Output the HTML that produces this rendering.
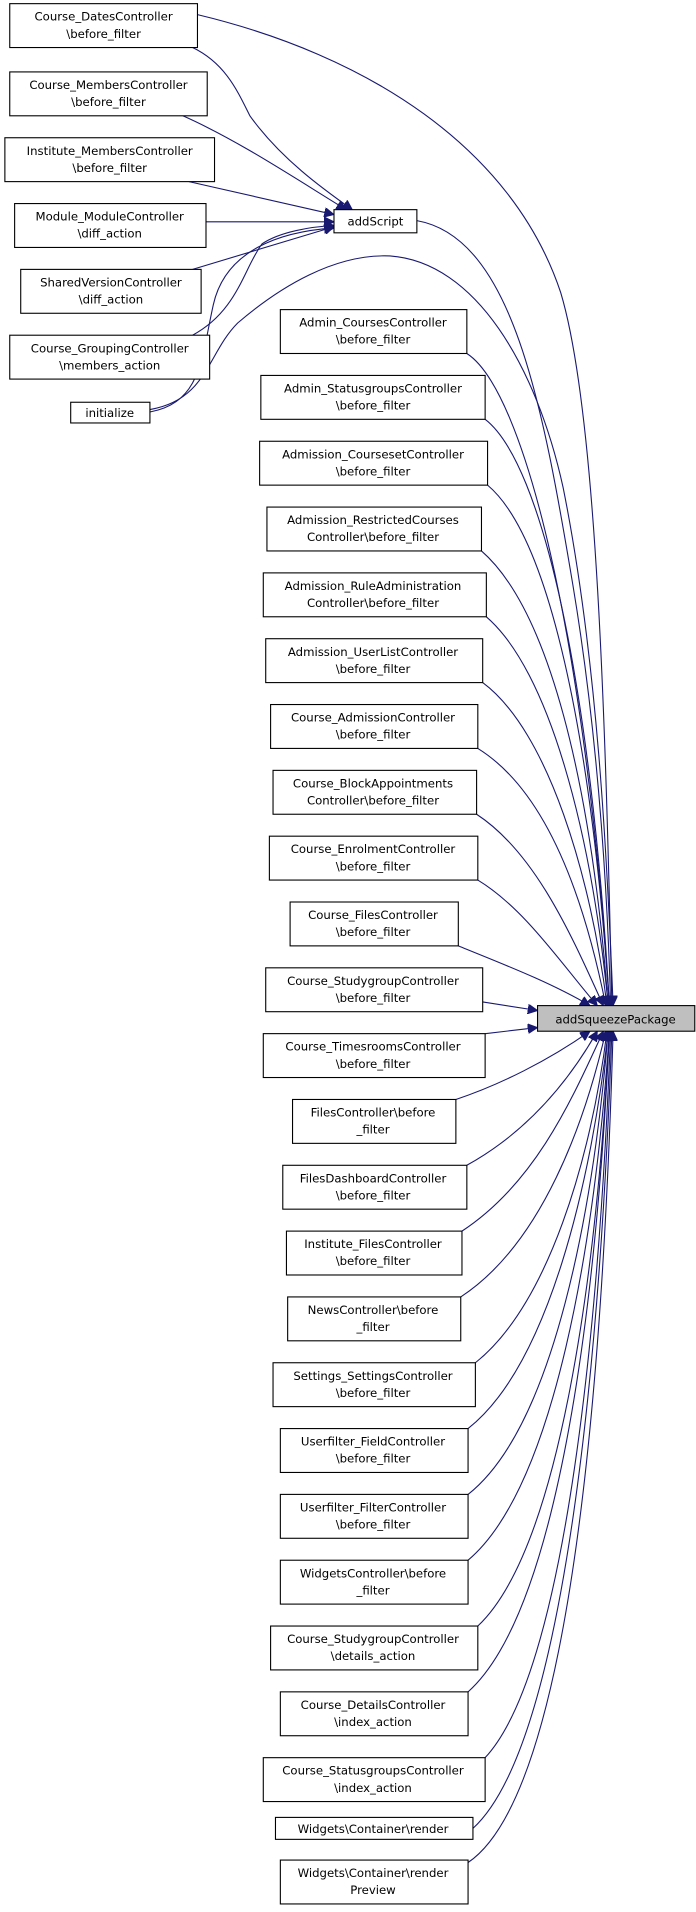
<!DOCTYPE html>
<html><head><meta charset="utf-8"><style>
html,body{margin:0;padding:0;background:#fff}
svg{display:block}
text{font-family:"DejaVu Sans","Liberation Sans",sans-serif;font-size:9.6px;fill:#000;text-anchor:middle}
rect.n{fill:#fff;stroke:#000;stroke-width:0.9}
path.e{fill:none;stroke:#191970;stroke-width:0.9}
</style></head><body>
<svg width="696" height="1912" viewBox="0 0 571 1568.6" xmlns="http://www.w3.org/2000/svg">
<defs><marker id="a" viewBox="0 0 10 10" refX="10" refY="5" markerWidth="8" markerHeight="8" orient="auto" markerUnits="userSpaceOnUse"><path d="M0,0L10,5L0,10z" fill="#191970" stroke="#191970"/></marker></defs>

<!-- edges to addScript -->
<path class="e" marker-end="url(#a)" d="M158,39 C185,52 195,75 205,95 C230,130 265,155 289,172"/>
<path class="e" marker-end="url(#a)" d="M150,95 C195,115 240,145 284,172"/>
<path class="e" marker-end="url(#a)" d="M155,149 L274,176"/>
<path class="e" marker-end="url(#a)" d="M169,182 L274,182"/>
<path class="e" marker-end="url(#a)" d="M158,221 L274,186"/>
<path class="e" marker-end="url(#a)" d="M158,275 C195,255 200,220 215,200 C230,190 255,186 274,185"/>
<path class="e" marker-end="url(#a)" d="M123,338 C165,330 165,295 175,250 C185,205 230,190 274,187"/>

<!-- to target from top group -->
<path class="e" marker-end="url(#a)" d="M342,181 C420,195 445,330 470,480 C490,600 498,720 501,825"/>
<path class="e" marker-end="url(#a)" d="M162,12 C300,45 420,120 460,240 C490,340 497,600 502,825"/>
<path class="e" marker-end="url(#a)" d="M123,336 C170,328 170,290 195,265 C230,235 275,208 320,210 C390,215 440,300 462,400 C490,540 498,700 503,825"/>

<!-- right column above -->
<path class="e" marker-end="url(#a)" d="M383,290 C430,320 480,520 500,825"/>
<path class="e" marker-end="url(#a)" d="M398,344 C445,380 485,560 500,825"/>
<path class="e" marker-end="url(#a)" d="M400,398 C450,440 485,600 500,825"/>
<path class="e" marker-end="url(#a)" d="M395,452 C450,500 485,640 499,825"/>
<path class="e" marker-end="url(#a)" d="M399,506 C450,550 485,680 499,825"/>
<path class="e" marker-end="url(#a)" d="M396,560 C450,600 485,720 498,825"/>
<path class="e" marker-end="url(#a)" d="M392,614 C450,650 480,740 497,825"/>
<path class="e" marker-end="url(#a)" d="M391,668 C440,700 470,770 495,825"/>
<path class="e" marker-end="url(#a)" d="M392,722 C430,745 460,790 490,825"/>
<path class="e" marker-end="url(#a)" d="M376,776 C410,790 450,805 484,825"/>
<path class="e" marker-end="url(#a)" d="M396,822 L441,829"/>
<!-- right column below -->
<path class="e" marker-end="url(#a)" d="M398,848 L441,843"/>
<path class="e" marker-end="url(#a)" d="M374,902 C410,890 450,870 484,846"/>
<path class="e" marker-end="url(#a)" d="M383,956 C430,930 465,890 490,846"/>
<path class="e" marker-end="url(#a)" d="M379,1010 C440,970 470,900 495,846"/>
<path class="e" marker-end="url(#a)" d="M378,1064 C445,1020 480,920 497,846"/>
<path class="e" marker-end="url(#a)" d="M390,1118 C450,1070 485,950 498,846"/>
<path class="e" marker-end="url(#a)" d="M384,1172 C450,1120 485,970 499,846"/>
<path class="e" marker-end="url(#a)" d="M384,1226 C455,1170 487,990 499,846"/>
<path class="e" marker-end="url(#a)" d="M384,1280 C455,1220 488,1020 500,846"/>
<path class="e" marker-end="url(#a)" d="M392,1334 C460,1270 490,1040 500,846"/>
<path class="e" marker-end="url(#a)" d="M384,1388 C460,1320 490,1060 500,846"/>
<path class="e" marker-end="url(#a)" d="M398,1442 C465,1370 492,1080 501,846"/>
<path class="e" marker-end="url(#a)" d="M388,1500 C465,1430 493,1100 502,846"/>
<path class="e" marker-end="url(#a)" d="M384,1528 C470,1470 495,1120 503,846"/>

<!-- left nodes -->
<rect class="n" x="8" y="3" width="154" height="36"/><text x="85" y="17">Course_DatesController</text><text x="85" y="31">\before_filter</text>
<rect class="n" x="8" y="59" width="162" height="36"/><text x="89" y="73">Course_MembersController</text><text x="89" y="87">\before_filter</text>
<rect class="n" x="4" y="113" width="172" height="36"/><text x="90" y="127">Institute_MembersController</text><text x="90" y="141">\before_filter</text>
<rect class="n" x="12" y="167" width="157" height="36"/><text x="90" y="181">Module_ModuleController</text><text x="90" y="195">\diff_action</text>
<rect class="n" x="17" y="221" width="148" height="36"/><text x="91" y="235">SharedVersionController</text><text x="91" y="249">\diff_action</text>
<rect class="n" x="8" y="275" width="164" height="36"/><text x="90" y="289">Course_GroupingController</text><text x="90" y="303">\members_action</text>
<rect class="n" x="58" y="330" width="65" height="17"/><text x="90" y="342">initialize</text>
<rect class="n" x="274" y="172" width="68" height="19"/><text x="308" y="185">addScript</text>

<!-- right nodes -->
<rect class="n" x="230" y="254" width="153" height="36"/><text x="306" y="268">Admin_CoursesController</text><text x="306" y="282">\before_filter</text>
<rect class="n" x="214" y="308" width="184" height="36"/><text x="306" y="322">Admin_StatusgroupsController</text><text x="306" y="336">\before_filter</text>
<rect class="n" x="213" y="362" width="187" height="36"/><text x="306" y="376">Admission_CoursesetController</text><text x="306" y="390">\before_filter</text>
<rect class="n" x="219" y="416" width="176" height="36"/><text x="306" y="430">Admission_RestrictedCourses</text><text x="306" y="444">Controller\before_filter</text>
<rect class="n" x="216" y="470" width="183" height="36"/><text x="306" y="484">Admission_RuleAdministration</text><text x="306" y="498">Controller\before_filter</text>
<rect class="n" x="218" y="524" width="178" height="36"/><text x="306" y="538">Admission_UserListController</text><text x="306" y="552">\before_filter</text>
<rect class="n" x="222" y="578" width="170" height="36"/><text x="306" y="592">Course_AdmissionController</text><text x="306" y="606">\before_filter</text>
<rect class="n" x="224" y="632" width="167" height="36"/><text x="306" y="646">Course_BlockAppointments</text><text x="306" y="660">Controller\before_filter</text>
<rect class="n" x="221" y="686" width="171" height="36"/><text x="306" y="700">Course_EnrolmentController</text><text x="306" y="714">\before_filter</text>
<rect class="n" x="238" y="740" width="138" height="36"/><text x="306" y="754">Course_FilesController</text><text x="306" y="768">\before_filter</text>
<rect class="n" x="218" y="794" width="178" height="36"/><text x="306" y="808">Course_StudygroupController</text><text x="306" y="822">\before_filter</text>
<rect class="n" x="216" y="848" width="182" height="36"/><text x="306" y="862">Course_TimesroomsController</text><text x="306" y="876">\before_filter</text>
<rect class="n" x="240" y="902" width="134" height="36"/><text x="306" y="916">FilesController\before</text><text x="306" y="930">_filter</text>
<rect class="n" x="232" y="956" width="151" height="36"/><text x="306" y="970">FilesDashboardController</text><text x="306" y="984">\before_filter</text>
<rect class="n" x="235" y="1010" width="144" height="36"/><text x="306" y="1024">Institute_FilesController</text><text x="306" y="1038">\before_filter</text>
<rect class="n" x="236" y="1064" width="142" height="36"/><text x="306" y="1078">NewsController\before</text><text x="306" y="1092">_filter</text>
<rect class="n" x="224" y="1118" width="166" height="36"/><text x="306" y="1132">Settings_SettingsController</text><text x="306" y="1146">\before_filter</text>
<rect class="n" x="230" y="1172" width="154" height="36"/><text x="306" y="1186">Userfilter_FieldController</text><text x="306" y="1200">\before_filter</text>
<rect class="n" x="230" y="1226" width="154" height="36"/><text x="306" y="1240">Userfilter_FilterController</text><text x="306" y="1254">\before_filter</text>
<rect class="n" x="230" y="1280" width="154" height="36"/><text x="306" y="1294">WidgetsController\before</text><text x="306" y="1308">_filter</text>
<rect class="n" x="222" y="1334" width="170" height="36"/><text x="306" y="1348">Course_StudygroupController</text><text x="306" y="1362">\details_action</text>
<rect class="n" x="230" y="1388" width="154" height="36"/><text x="306" y="1402">Course_DetailsController</text><text x="306" y="1416">\index_action</text>
<rect class="n" x="216" y="1442" width="182" height="36"/><text x="306" y="1456">Course_StatusgroupsController</text><text x="306" y="1470">\index_action</text>
<rect class="n" x="226" y="1491" width="162" height="18"/><text x="306" y="1504">Widgets\Container\render</text>
<rect class="n" x="230" y="1526" width="154" height="36"/><text x="306" y="1540">Widgets\Container\render</text><text x="306" y="1554">Preview</text>

<rect x="441" y="825" width="129" height="21" fill="#bfbfbf" stroke="#000" stroke-width="0.9"/><text x="505" y="839.5">addSqueezePackage</text>
</svg>
</body></html>
